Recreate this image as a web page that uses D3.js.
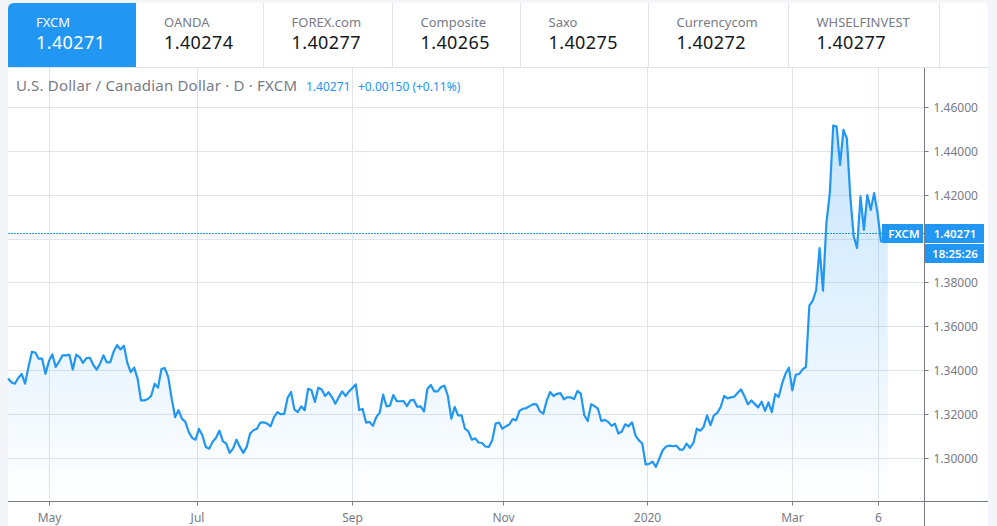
<!DOCTYPE html>
<html>
<head>
<meta charset="utf-8">
<script src="https://cdn.jsdelivr.net/npm/d3@7"></script>
<style>
  html,body{margin:0;padding:0;background:#f4f5f9;overflow:hidden}
  text{font-family:"Noto Sans",sans-serif}
</style>
</head>
<body>
<svg id="chart" width="997" height="526"></svg>
<script>
/* quote tabs */
const exchanges = ["FXCM","OANDA","FOREX.com","Composite","Saxo","Currencycom","WHSELFINVEST"];
const quotes    = ["1.40271","1.40274","1.40277","1.40265","1.40275","1.40272","1.40277"];

/* daily close, one value per bar */
const closes = [
  1.3365,1.3348,1.3341,1.3367,1.3386,1.3341,1.3417,1.3486,1.3483,1.3455,1.3455,1.3386,1.3444,1.3474,1.3417,
  1.3442,1.3470,1.3470,1.3473,1.3406,1.3473,1.3462,1.3436,1.3458,1.3459,1.3427,1.3405,1.3432,1.3470,1.3438,
  1.3439,1.3488,1.3517,1.3497,1.3514,1.3436,1.3394,1.3414,1.3364,1.3265,1.3265,1.3271,1.3286,1.3341,1.3323,
  1.3408,1.3412,1.3371,1.3273,1.3189,1.3220,1.3182,1.3167,1.3121,1.3094,1.3086,1.3135,1.3106,1.3053,1.3045,
  1.3076,1.3095,1.3127,1.3079,1.3068,1.3026,1.3045,1.3086,1.3053,1.3026,1.3053,1.3114,1.3129,1.3136,
  1.3164,1.3165,1.3159,1.3147,1.3189,1.3211,1.3202,1.3203,1.3277,1.3303,1.3223,1.3212,1.3238,1.3220,1.3318,
  1.3311,1.3258,1.3323,1.3315,1.3285,1.3302,1.3280,1.3250,1.3280,1.3306,1.3285,1.3306,1.3321,1.3338,1.3221,
  1.3226,1.3164,1.3167,1.3149,1.3189,1.3209,1.3291,1.3238,1.3241,1.3289,1.3262,1.3261,1.3262,1.3239,1.3265,
  1.3267,1.3236,1.3238,1.3215,1.3318,1.3335,1.3306,1.3306,1.3326,1.3332,1.3285,1.3182,1.3235,1.3197,1.3197,
  1.3136,1.3124,1.3086,1.3092,1.3073,1.3071,1.3055,1.3053,1.3083,1.3159,1.3164,1.3136,1.3147,1.3155,1.3180,
  1.3174,1.3217,
  1.3227,1.3230,1.3239,1.3248,1.3247,1.3215,1.3205,1.3265,1.3303,1.3285,1.3295,1.3298,1.3270,1.3279,1.3279,
  1.3271,1.3308,1.3295,1.3197,1.3171,1.3247,1.3239,1.3227,1.3171,1.3176,1.3167,1.3149,1.3159,1.3114,1.3123,
  1.3156,1.3147,1.3165,1.3106,1.3083,1.3068,1.2973,1.2976,1.2986,1.2962,1.3000,1.3038,1.3055,1.3059,1.3056,
  1.3059,1.3041,1.3041,1.3068,1.3049,1.3071,1.3136,1.3127,1.3144,1.3197,1.3152,1.3197,1.3208,1.3235,1.3285,
  1.3274,1.3279,1.3282,1.3300,1.3315,1.3283,1.3247,1.3265,1.3248,1.3233,1.3259,1.3217,1.3256,1.3212,1.3294,
  1.3280,1.3341,1.3386,1.3414,1.3311,1.3382,1.3385,1.3406,1.3417,
  1.3697,1.3720,1.3768,1.3959,1.3765,1.4073,1.4209,1.4517,1.4512,1.4338,1.4497,1.4459,1.4194,1.4012,1.3959,
  1.4194,1.4042,1.4200,1.4133,1.4209,1.4118,1.3989,1.3995,1.40271
];

/* time axis: labels and the bar position each one sits on */
const timeLabels = ["May","Jul","Sep","Nov","2020","Mar","6"];
const timeBars   = [12.2,55.6,101,145.25,187.5,230,255.2];

/* price axis: 1.40 has a grid line, its label is covered by the price flags */
const priceGrid  = [1.30,1.32,1.34,1.36,1.38,1.40,1.42,1.44,1.46];
const priceTicks = [1.30,1.32,1.34,1.36,1.38,1.42,1.44,1.46];

const lastPrice  = 1.40271;
const titleText  = "U.S. Dollar / Canadian Dollar · D · FXCM";
const legendLast = "1.40271";
const legendChg  = "+0.00150 (+0.11%)";
const countdown  = "18:25:26";

const BLUE = "#2196f3", GRID = "#e0e3eb", AXIS = "#787b86", GREY = "#787b86";

/* layout */
const panelL = 8, panelR = 988, panelT = 3, tabBottom = 67.5, axisX = 924.5, axisY = 501.5;
const tabEdges = [8,136,263.5,392.5,520.5,648.5,788.5,939.5];

const svg = d3.select("#chart");

const x = d3.scaleLinear().domain([0,258]).range([8,8+3.41*258]);
const y = d3.scaleLinear().domain([1.30,1.46]).range([458.55,107.35]);
const crisp = v => Math.floor(v)+.5;

/*────────── panel ──────────*/
svg.append("path").attr("fill","#fff")
  .attr("d",`M${panelL},526V${panelT+6}Q${panelL},${panelT} ${panelL+6},${panelT}H${panelR-6}Q${panelR},${panelT} ${panelR},${panelT+6}V526Z`);

/*────────── grid ──────────*/
const grid = svg.append("g").attr("stroke",GRID).attr("stroke-width",1);
grid.selectAll(".h").data(priceGrid).enter().append("line")
  .attr("x1",panelL).attr("x2",axisX)
  .attr("y1",d=>crisp(y(d))).attr("y2",d=>crisp(y(d)));
grid.selectAll(".v").data(timeBars).enter().append("line")
  .attr("y1",tabBottom).attr("y2",axisY)
  .attr("x1",d=>crisp(x(d))).attr("x2",d=>crisp(x(d)));

/*────────── area + line ──────────*/
const defs = svg.append("defs");
const grad = defs.append("linearGradient").attr("id","fade")
  .attr("gradientUnits","userSpaceOnUse").attr("x1",0).attr("x2",0)
  .attr("y1",y(d3.max(closes))).attr("y2",axisY);
grad.append("stop").attr("offset",0).attr("stop-color",BLUE).attr("stop-opacity",.25);
grad.append("stop").attr("offset",1).attr("stop-color",BLUE).attr("stop-opacity",0);

svg.append("path").datum(closes)
  .attr("fill","url(#fade)")
  .attr("d",d3.area().x((d,i)=>x(i)).y0(axisY).y1(d=>y(d)));

svg.append("path").datum(closes)
  .attr("fill","none").attr("stroke",BLUE).attr("stroke-width",2.2)
  .attr("stroke-linejoin","round")
  .attr("d",d3.line().x((d,i)=>x(i)).y(d=>y(d)));

/* last price dotted line */
svg.append("line")
  .attr("x1",panelL).attr("x2",axisX)
  .attr("y1",crisp(y(lastPrice))).attr("y2",crisp(y(lastPrice)))
  .attr("stroke",BLUE).attr("stroke-dasharray","2,1");

/*────────── axes ──────────*/
const yAxis = d3.axisRight(y).tickValues(priceTicks).tickFormat(d3.format(".5f")).tickSize(4).tickPadding(5);
const gy = svg.append("g").attr("transform",`translate(${axisX},0)`).call(yAxis);
gy.select(".domain").remove();
gy.selectAll(".tick").attr("transform",d=>`translate(0,${crisp(y(d))})`);
gy.selectAll("line").attr("stroke",AXIS);
gy.selectAll("text").attr("fill",GREY).attr("dy",".4em").style("font-size","12px");
svg.append("line").attr("x1",axisX).attr("x2",axisX).attr("y1",tabBottom).attr("y2",526).attr("stroke",AXIS);
svg.append("line").attr("x1",panelL).attr("x2",panelR).attr("y1",axisY).attr("y2",axisY).attr("stroke",AXIS);

const xAxis = d3.axisBottom(x).tickValues(timeBars).tickFormat((d,i)=>timeLabels[i]).tickSize(4).tickPadding(8);
const gx = svg.append("g").attr("transform",`translate(0,${axisY})`).call(xAxis);
gx.select(".domain").remove();
gx.selectAll(".tick").attr("transform",d=>`translate(${crisp(x(d))},0)`);
gx.selectAll("line").attr("stroke",AXIS);
gx.selectAll("text").attr("fill",GREY).style("font-size","12px");

/*────────── price flags ──────────*/
const flagY = Math.floor(y(lastPrice));
const flags = [
  {x:882,w:41,y:flagY-9,h:19,t:exchanges[0],tx:904},
  {x:925,w:59,y:flagY-9,h:19,t:quotes[0],tx:955},
  {x:925,w:59,y:flagY+11,h:19,t:countdown,tx:955}
];
svg.selectAll(".flag").data(flags).enter().append("rect")
  .attr("x",d=>d.x).attr("y",d=>d.y).attr("width",d=>d.w).attr("height",d=>d.h).attr("fill",BLUE);
svg.selectAll(".flagt").data(flags).enter().append("text")
  .attr("x",d=>d.tx).attr("y",d=>d.y+14).attr("text-anchor","middle")
  .attr("fill","#fff").style("font-size","11.5px").style("font-weight",600).text(d=>d.t);

/*────────── title row ──────────*/
svg.append("text").attr("x",16).attr("y",91).attr("fill",GREY)
  .style("font-size","15px").style("letter-spacing","0.2px").text(titleText);
svg.append("text").attr("x",306).attr("y",91).attr("fill",BLUE).style("font-size","12px").text(legendLast);
svg.append("text").attr("x",358).attr("y",91).attr("fill",BLUE).style("font-size","12px").text(legendChg);

/*────────── tabs ──────────*/
svg.append("path").attr("fill",BLUE)
  .attr("d",`M${tabEdges[0]},${tabBottom}V${panelT+6}Q${tabEdges[0]},${panelT} ${tabEdges[0]+6},${panelT}H${tabEdges[1]}V${tabBottom}Z`);
svg.append("line").attr("x1",panelL).attr("x2",panelR).attr("y1",tabBottom).attr("y2",tabBottom).attr("stroke",GRID);
tabEdges.slice(2).forEach(e=>{
  svg.append("line").attr("x1",e).attr("x2",e).attr("y1",panelT).attr("y2",tabBottom).attr("stroke",GRID);
});
const tabs = svg.selectAll(".tab").data(exchanges).enter().append("g")
  .attr("transform",(d,i)=>`translate(${tabEdges[i]+28},0)`);
tabs.append("text").attr("y",27).style("font-size","13px")
  .attr("fill",(d,i)=>i===0?"#fff":GREY).text(d=>d);
tabs.append("text").attr("y",49).style("font-size","18px").style("letter-spacing","0.4px")
  .attr("fill",(d,i)=>i===0?"#fff":"#131722").text((d,i)=>quotes[i]);
</script>
</body>
</html>
